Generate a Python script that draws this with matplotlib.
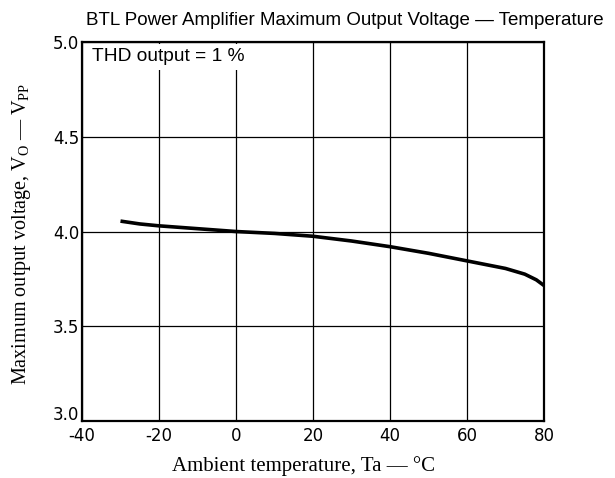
import numpy as np
import matplotlib
matplotlib.use("Agg")
import matplotlib.pyplot as plt
from matplotlib.transforms import ScaledTranslation

# Maximum output voltage vs ambient temperature (THD = 1 %)
temp_c = [-30, -25, -20, -10, 0, 10, 20, 30, 40, 50, 60, 65, 70, 75, 78, 80]
vout_pp = [4.055, 4.04, 4.03, 4.015, 4.0, 3.99, 3.975, 3.95, 3.92, 3.885, 3.845, 3.825, 3.805, 3.775, 3.745, 3.715]

x_ticks = [-40, -20, 0, 20, 40, 60, 80]
y_ticks = [3.0, 3.5, 4.0, 4.5, 5.0]

plt.rcParams["mathtext.fontset"] = "custom"
plt.rcParams["mathtext.rm"] = "Liberation Serif"
plt.rcParams["mathtext.it"] = "Liberation Serif:italic"

fig = plt.figure(figsize=(6.15, 4.78), dpi=100)
ax = fig.add_axes([0.1333, 0.1192, 0.7513, 0.7929])

ax.plot(temp_c, vout_pp, color="black", linewidth=2.6, solid_capstyle="butt")

ax.set_xlim(-40, 80)
ax.set_ylim(3.0, 5.0)
ax.set_xticks(x_ticks)
ax.set_yticks(y_ticks)
ax.set_xticklabels([str(t) for t in x_ticks])
ax.set_yticklabels(["%.1f" % t for t in y_ticks])
ax.grid(True, color="black", linewidth=0.9)
ax.tick_params(length=0, labelsize=12)
ax.tick_params(axis="x", pad=4)
ax.tick_params(axis="y", pad=2)
for lab in ax.get_xticklabels() + ax.get_yticklabels():
    lab.set_fontfamily("DejaVu Sans")
# lift the bottom y label so it clears the -40 below it
low = ax.get_yticklabels()[0]
low.set_transform(low.get_transform() + ScaledTranslation(0, 6 / 72, fig.dpi_scale_trans))
for s in ax.spines.values():
    s.set_linewidth(1.6)

fig.text(304 / 615, 1 - 466 / 478, "Ambient temperature, Ta \u2014 \u00b0C",
         family="Liberation Serif", fontsize=15, ha="center", va="center")
fig.text(22 / 615, 1 - 234 / 478, "Maximum output voltage, V$_\\mathrm{O}$ \u2014 V$_\\mathrm{PP}$",
         family="Liberation Serif", fontsize=14.5, ha="center", va="center", rotation=90)

# condition note sits on a white patch that hides the grid behind it
ax.text(-37.4, 4.921, "THD output = 1 %", family="Liberation Sans", fontsize=13.8,
        va="center", ha="left", zorder=5,
        bbox=dict(boxstyle="square,pad=0.25", facecolor="white", edgecolor="none"))

fig.text(604 / 615, 1 - 25 / 478, "BTL Power Amplifier Maximum Output Voltage \u2014 Temperature",
         family="Liberation Sans", fontsize=13.5, ha="right", va="baseline")

fig.savefig("out.png", dpi=100)
